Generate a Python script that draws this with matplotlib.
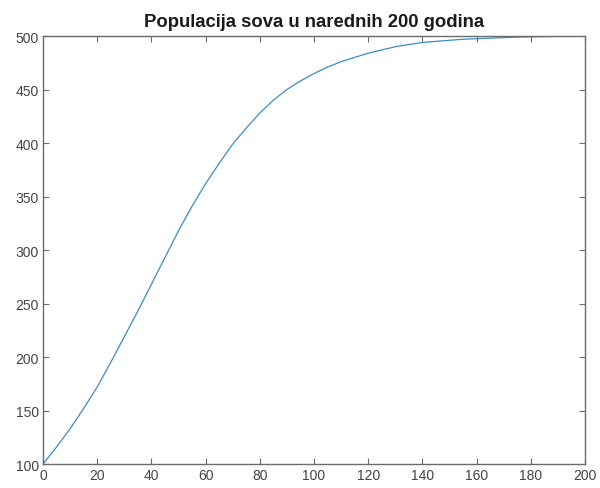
import matplotlib
matplotlib.use("Agg")
import matplotlib.pyplot as plt

# očitane vrijednosti populacije (svakih 5 godina)
godine = [0, 5, 10, 15, 20, 25, 30, 35, 40, 45, 50, 55, 60, 65, 70, 75, 80, 85, 90, 95, 100,
          105, 110, 115, 120, 125, 130, 135, 140, 145, 150, 155, 160, 165, 170, 175, 180,
          185, 190, 195, 200]
populacija = [100, 116, 133, 152, 172, 195, 219, 243, 268, 293, 318, 341, 362, 381, 399, 414,
              428, 440, 450, 458, 465, 471, 476, 480, 484, 487, 490, 492, 494, 495, 496, 497,
              497.5, 498, 498.5, 499, 499.2, 499.4, 499.6, 499.7, 499.8]
x_ticks = [0, 20, 40, 60, 80, 100, 120, 140, 160, 180, 200]
y_ticks = [100, 150, 200, 250, 300, 350, 400, 450, 500]

plt.rcParams["font.family"] = ["Liberation Sans", "DejaVu Sans"]

fig = plt.figure(figsize=(6.0, 4.89), dpi=100)
ax = fig.add_axes([0.0717, 0.049, 0.9033, 0.8753])

ax.plot(godine, populacija, color="#3a8cc8", linewidth=0.9)

ax.set_xlim(0, 200)
ax.set_ylim(100, 500)
ax.set_xticks(x_ticks)
ax.set_yticks(y_ticks)

axis_color = "#6b6b6b"
for s in ax.spines.values():
    s.set_color(axis_color)
    s.set_linewidth(1.0)
ax.tick_params(direction="in", top=True, right=True, length=4, width=0.8,
               colors=axis_color, labelsize=10, labelcolor="#444444", pad=3)

ax.set_title("Populacija sova u narednih 200 godina", fontsize=13.3, fontweight="bold",
             color="#1a1a1a", pad=7)

fig.savefig("out.png", dpi=100)
